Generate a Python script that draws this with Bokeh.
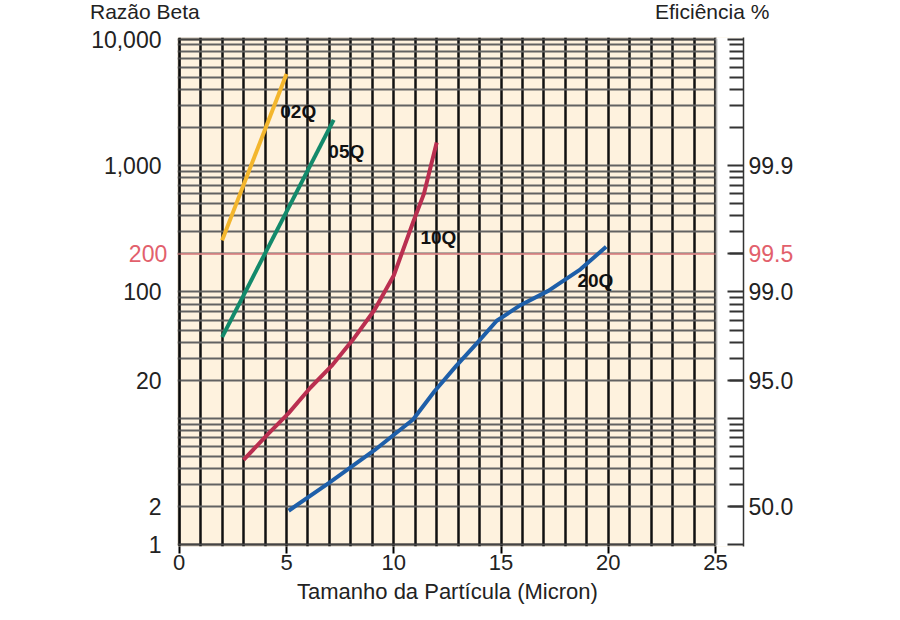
from bokeh.plotting import figure
from bokeh.layouts import column
from bokeh.models import (Range1d, LogAxis, FixedTicker, BoxAnnotation, Label, Span,
                          ColumnDataSource, Div)
from bokeh.core.properties import value
from bokeh.embed import file_html
from bokeh.resources import INLINE

# ---------------- data ----------------
particle_02q = [2.0, 5.0]
beta_02q = [256, 5300]

particle_05q = [2.0, 7.2]
beta_05q = [44, 2300]

particle_10q = [3.0, 4.1, 5.1, 6.1, 7.1, 8.1, 9.1, 10.0, 10.9, 11.4, 12.0]
beta_10q = [4.7, 7.4, 11.0, 17.4, 26, 42, 72, 135, 356, 594, 1520]

particle_20q = [5.1, 7.0, 9.1, 10.9, 11.9, 12.9, 13.9, 14.8, 15.9, 17.2, 18.7, 19.9]
beta_20q = [1.86, 3.1, 5.6, 9.8, 16.4, 25.9, 39.7, 59.2, 78.6, 102, 151, 228]

curve_names = ["02Q", "05Q", "10Q", "20Q"]
curve_colors = ["#F3B62D", "#138A6B", "#BA2F50", "#1E5FA9"]
label_x = [4.71, 6.95, 11.24, 18.56]
label_y = [2690, 1301, 268, 124]

x_ticks = [0, 5, 10, 15, 20, 25]
x_grid = list(range(0, 26))
beta_ticks = [1, 2, 20, 100, 1000, 10000]
beta_tick_labels = ["1", "2", "20", "100", "1,000", "10,000"]
eff_ticks = [2, 20, 100, 1000]
eff_tick_labels = ["50.0", "95.0", "99.0", "99.9"]
ref_beta = 200
ref_beta_label = "200"
ref_eff_label = "99.5"

title_left = "Razão Beta"
title_right = "Eficiência %"
x_title = "Tamanho da Partícula (Micron)"

decades = [1, 10, 100, 1000, 10000]
minor_beta = [m * 10 ** k for k in range(4) for m in range(2, 10)]

FONT = "Liberation Sans"
TXT = "#222222"
CREAM = "#FEF2DE"
RED = "#E2606C"
X_END = 26.3
Y_LO, Y_HI = 0.97, 10300
W = 884
HEAD_H = 24
MAIN_H = 604 - HEAD_H

# ---------------- header with the two scale titles ----------------
span_style = ("position:absolute;top:0px;white-space:nowrap;line-height:24px;"
              "font-family:'Liberation Sans';font-size:21px;color:%s;" % TXT)
head_html = ('<div style="position:relative;width:%dpx;height:%dpx;">'
             '<span style="%sleft:90px;">%s</span>'
             '<span style="%sleft:655px;">%s</span></div>'
             % (W, HEAD_H, span_style, title_left, span_style, title_right))
head = Div(text=head_html, width=W, height=HEAD_H, margin=0)

# ---------------- main chart ----------------
p = figure(width=W, height=MAIN_H, x_range=Range1d(-0.08, X_END), y_range=Range1d(Y_LO, Y_HI),
           y_axis_type="log", output_backend="svg", toolbar_location=None, title=None,
           min_border_left=177, min_border_right=141, min_border_top=13, min_border_bottom=58)
p.background_fill_color = CREAM
p.border_fill_color = "white"
p.outline_line_color = None

# grids
p.xgrid.ticker = FixedTicker(ticks=x_grid)
p.xgrid.grid_line_color = "#111111"
p.xgrid.grid_line_width = 2.5
p.ygrid.ticker = FixedTicker(ticks=decades, minor_ticks=minor_beta)
p.ygrid.grid_line_color = "#626262"
p.ygrid.grid_line_width = 2
p.ygrid.minor_grid_line_color = "#626262"
p.ygrid.minor_grid_line_width = 2

# bottom axis
xax = p.xaxis[0]
xax.ticker = FixedTicker(ticks=x_ticks)
xax.bounds = (0, 25)
xax.axis_line_color = None
xax.major_tick_out = 7
xax.major_tick_in = 0
xax.major_tick_line_width = 2
xax.major_tick_line_color = "black"
xax.minor_tick_line_color = None
xax.major_label_standoff = 1
xax.major_label_text_font = FONT
xax.major_label_text_font_size = "22px"
xax.major_label_text_color = TXT

# left axis
yax = p.yaxis[0]
yax.ticker = FixedTicker(ticks=beta_ticks)
yax.major_label_overrides = dict(zip(beta_ticks, beta_tick_labels))
yax.axis_line_color = None
yax.major_tick_line_color = None
yax.minor_tick_line_color = None
yax.major_label_standoff = 10
yax.major_label_text_font = FONT
yax.major_label_text_font_size = "23px"
yax.major_label_text_color = TXT

# right (efficiency) axis
right_ticks = sorted(set(decades + eff_ticks + [ref_beta]))
overrides = {t: "" for t in right_ticks}
overrides.update(dict(zip(eff_ticks, eff_tick_labels)))
rax = LogAxis(ticker=FixedTicker(ticks=right_ticks, minor_ticks=minor_beta),
              major_label_overrides=overrides)
rax.axis_line_color = "#333333"
rax.axis_line_width = 1.5
rax.major_tick_in = 16
rax.major_tick_out = 0
rax.minor_tick_in = 14
rax.minor_tick_out = 0
rax.major_tick_line_color = "#333333"
rax.major_tick_line_width = 2
rax.minor_tick_line_color = "#333333"
rax.minor_tick_line_width = 2
rax.major_label_standoff = 5
rax.major_label_text_font = FONT
rax.major_label_text_font_size = "23px"
rax.major_label_text_color = TXT
p.add_layout(rax, "right")

# reference line at beta 200
p.add_layout(Span(location=ref_beta, dimension="width", line_color="#F08C8C",
                  line_width=1.5, level="underlay"))

# white gap between chart frame and efficiency scale
p.add_layout(BoxAnnotation(left=x_grid[-1], right=X_END, fill_color="white", fill_alpha=1.0,
                           line_color=None, level="glyph"))

# curves
curves = [(particle_02q, beta_02q), (particle_05q, beta_05q),
          (particle_10q, beta_10q), (particle_20q, beta_20q)]
for (xs, ys), c in zip(curves, curve_colors):
    p.line(xs, ys, line_color=c, line_width=4, line_join="round")

src = ColumnDataSource(dict(x=label_x, y=label_y, text=curve_names))
p.text("x", "y", "text", source=src, text_font=value(FONT), text_font_size="19px",
       text_font_style="bold", text_color="#111111", text_baseline="middle", text_align="left")

# frame border
p.add_layout(BoxAnnotation(left=x_grid[0], right=x_grid[-1], bottom=beta_ticks[0], top=beta_ticks[-1],
                           fill_color=None, fill_alpha=0, line_color="black", line_width=3.5))

# texts outside the frame, kept in the side panels so they are not clipped
p.add_layout(Label(x=x_grid[0], y=ref_beta, x_offset=-12, text=ref_beta_label, text_align="right",
                   text_baseline="middle", text_font=FONT, text_font_size="23px", text_color=RED), "left")
p.add_layout(Label(x=X_END, y=ref_beta, x_offset=5, text=ref_eff_label, text_align="left",
                   text_baseline="middle", text_font=FONT, text_font_size="23px", text_color=RED), "right")
p.add_layout(Label(x=12.5, y=Y_LO, y_offset=-45, text=x_title, text_align="center",
                   text_baseline="middle", text_font=FONT, text_font_size="22px", text_color=TXT), "below")

layout = column(head, p, spacing=0)
open("out.html", "w", encoding="utf-8").write(file_html(layout, INLINE))
